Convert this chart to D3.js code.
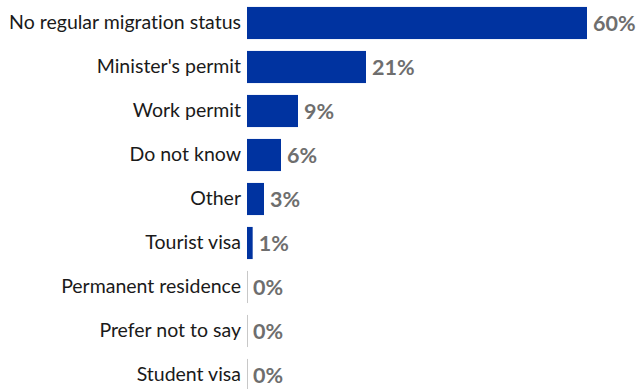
<!DOCTYPE html>
<html>
<head>
<meta charset="utf-8">
<script src="https://cdn.jsdelivr.net/npm/d3@7"></script>
<style>
  html, body { margin: 0; padding: 0; background: #fff; }
  svg { display: block; }
  text { font-variant-ligatures: none; }
</style>
</head>
<body>
<svg id="chart" width="638" height="389"></svg>
<script>
// Migration status of respondents (share, %)
const categories = [
  "No regular migration status",
  "Minister's permit",
  "Work permit",
  "Do not know",
  "Other",
  "Tourist visa",
  "Permanent residence",
  "Prefer not to say",
  "Student visa"
];
const values = [60, 21, 9, 6, 3, 1, 0, 0, 0];

const svg = d3.select("#chart");
const marginLeft = 247, marginTop = 1;
const rowStep = 44;
const plotH = rowStep * categories.length;

const x = d3.scaleLinear().domain([0, 60]).range([0, 340]);
const y = d3.scaleBand().domain(categories).range([0, plotH]).paddingInner(0.27).paddingOuter(0.135);

const g = svg.append("g").attr("transform", `translate(${marginLeft},${marginTop})`);
const data = categories.map((c, i) => ({ c, v: values[i] }));

// zero baseline segment in each row
g.selectAll("line.base").data(data).join("line")
  .attr("class", "base")
  .attr("x1", 0.5).attr("x2", 0.5)
  .attr("y1", d => y(d.c)).attr("y2", d => y(d.c) + y.bandwidth())
  .attr("stroke", "#c8c8c8").attr("stroke-width", 1);

g.selectAll("rect.bar").data(data).join("rect")
  .attr("class", "bar")
  .attr("x", 0)
  .attr("y", d => y(d.c))
  .attr("width", d => x(d.v))
  .attr("height", y.bandwidth())
  .attr("fill", "#0033a0");

// category labels
const yAxis = d3.axisLeft(y).tickSize(0).tickPadding(6);
const ax = g.append("g").call(yAxis);
ax.select(".domain").remove();
ax.selectAll("text")
  .attr("font-family", "Lato, 'Open Sans', sans-serif")
  .attr("font-size", 19.5)
  .attr("fill", "#1a1a1a");

// value labels
g.selectAll("text.val").data(data).join("text")
  .attr("class", "val")
  .attr("x", d => x(d.v) + 6)
  .attr("y", d => y(d.c) + y.bandwidth() / 2)
  .attr("dy", "0.36em")
  .attr("font-family", "Lato, 'Open Sans', sans-serif")
  .attr("font-weight", "bold")
  .attr("font-size", 21.5)
  .attr("fill", "#6e6e6e")
  .text(d => d.v + "%");
</script>
</body>
</html>
